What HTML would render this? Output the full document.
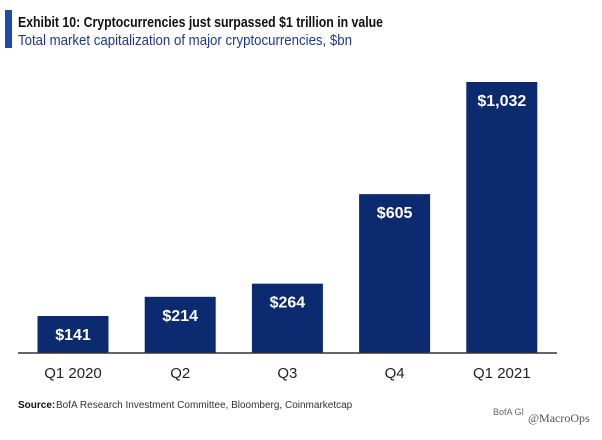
<!DOCTYPE html>
<html><head><meta charset="utf-8"><style>
body{margin:0;width:602px;height:435px;background:#fff;overflow:hidden;font-family:"Liberation Sans Narrow","Liberation Sans",sans-serif;}
</style></head><body>
<svg width="602" height="435" xmlns="http://www.w3.org/2000/svg">
<rect x="5" y="10" width="7" height="38" fill="#1f4aa8"/>
<text x="18" y="27" font-size="15" font-weight="bold" fill="#111" textLength="365" lengthAdjust="spacingAndGlyphs">Exhibit 10: Cryptocurrencies just surpassed $1 trillion in value</text>
<text x="18" y="45" font-size="15" fill="#1f3a8a" textLength="334" lengthAdjust="spacingAndGlyphs">Total market capitalization of major cryptocurrencies, $bn</text>
<g id="bars"></g>
<line x1="18" y1="353" x2="557" y2="353" stroke="#333" stroke-width="1.5"/>
<text x="18" y="408" font-size="10" font-weight="bold" fill="#111">Source:</text>
<text x="56" y="408" font-size="10" fill="#333">BofA Research Investment Committee, Bloomberg, Coinmarketcap</text>
<text x="493" y="415" font-size="9" fill="#666">BofA GI</text>
<text x="528" y="422" font-size="12" fill="#555" font-family="Liberation Serif,serif">@MacroOps</text>
</svg>
<script>
const categories=["Q1 2020","Q2","Q3","Q4","Q1 2021"];
const values=[141,214,264,605,1032];
const valueLabels=["$141","$214","$264","$605","$1,032"];
const NS="http://www.w3.org/2000/svg";
const base=353,top0=82,maxV=1032;
function y(v){return base-(v/maxV)*(base-top0);}
function xc(i){return 73+i*107.2;}
const g=document.getElementById('bars');
values.forEach((v,i)=>{
 const r=document.createElementNS(NS,'rect');
 r.setAttribute('x',xc(i)-35.5);r.setAttribute('y',y(v));
 r.setAttribute('width',71);r.setAttribute('height',base-y(v));
 r.setAttribute('fill','#0b2a6f');
 
 
 g.appendChild(r);
 const t=document.createElementNS(NS,'text');
 t.setAttribute('x',xc(i));t.setAttribute('y',y(v)+24);
 t.setAttribute('text-anchor','middle');t.setAttribute('font-size','16');
 t.setAttribute('font-weight','bold');t.setAttribute('fill','#fff');
 t.textContent=valueLabels[i];
 
 
 g.appendChild(t);
 const c=document.createElementNS(NS,'text');
 c.setAttribute('x',xc(i));c.setAttribute('y',378);
 c.setAttribute('text-anchor','middle');c.setAttribute('font-size','15');c.setAttribute('fill','#222');
 c.textContent=categories[i];
 
 
 g.appendChild(c);
});
</script>
</body></html>
